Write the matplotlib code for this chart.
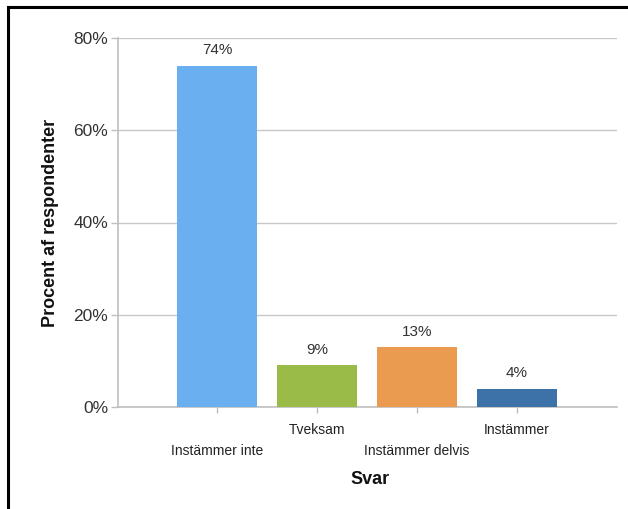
import matplotlib.pyplot as plt
from matplotlib.patches import Rectangle
from matplotlib.ticker import FuncFormatter

# Svarsfördelning
svar = ["Instämmer inte", "Tveksam", "Instämmer delvis", "Instämmer"]
andel = [74, 9, 13, 4]
farger = ["#6AAFF0", "#9BBB48", "#EB9B4F", "#3D72A8"]

plt.rcParams['font.family'] = ['Liberation Sans', 'DejaVu Sans']

fig = plt.figure(figsize=(6.28, 5.09), dpi=100)
ax = fig.add_axes([118/628, 1 - 407/509, 499/628, 369/509])

x = list(range(len(svar)))
staplar = ax.bar(x, andel, width=0.8, color=farger, zorder=3)

for xi, v in zip(x, andel):
    ax.annotate(f"{v}%", (xi, v), xytext=(0, 6), textcoords="offset points",
                ha="center", va="bottom", fontsize=11, color="#333333")

ax.set_xlim(-0.99, 4.0)
ax.set_ylim(0, 80)
ax.set_yticks([0, 20, 40, 60, 80])
ax.yaxis.set_major_formatter(FuncFormatter(lambda v, p: f"{v:.0f}%"))
ax.grid(axis="y", color="#C8C8C8", linewidth=1.0, zorder=0)

for s in ["top", "right"]:
    ax.spines[s].set_visible(False)
for s in ["left", "bottom"]:
    ax.spines[s].set_color("#BFBFBF")
    ax.spines[s].set_linewidth(1.2)

ax.tick_params(axis="y", colors="#BFBFBF", labelcolor="#333333",
               labelsize=12.5, length=5, width=1.0, pad=2)
ax.set_xticks(x)
ax.set_xticklabels([])
ax.tick_params(axis="x", colors="#BFBFBF", length=4, width=1.0)

# Kategorietiketter i två rader
for i, namn in enumerate(svar):
    y_pix = 451 if i % 2 == 0 else 430
    ax.text(i, -(y_pix - 407) / 369, namn, transform=ax.get_xaxis_transform(),
            ha="center", va="center", fontsize=10, color="#222222")

fig.text(370/628, 1 - 479/509, "Svar", ha="center", va="center",
         fontsize=13, fontweight="bold", color="#111111")
fig.text(51/628, 1 - 223/509, "Procent af respondenter", ha="center", va="center",
         rotation=90, fontsize=13, fontweight="bold", color="#111111")

# Ram runt diagrammet
fig.patches.append(Rectangle((8/628, -0.05), 1.0, 1 - 7/509 + 0.05,
                             transform=fig.transFigure, fill=False,
                             edgecolor="black", linewidth=2.2))

fig.savefig("out.png", dpi=100)
